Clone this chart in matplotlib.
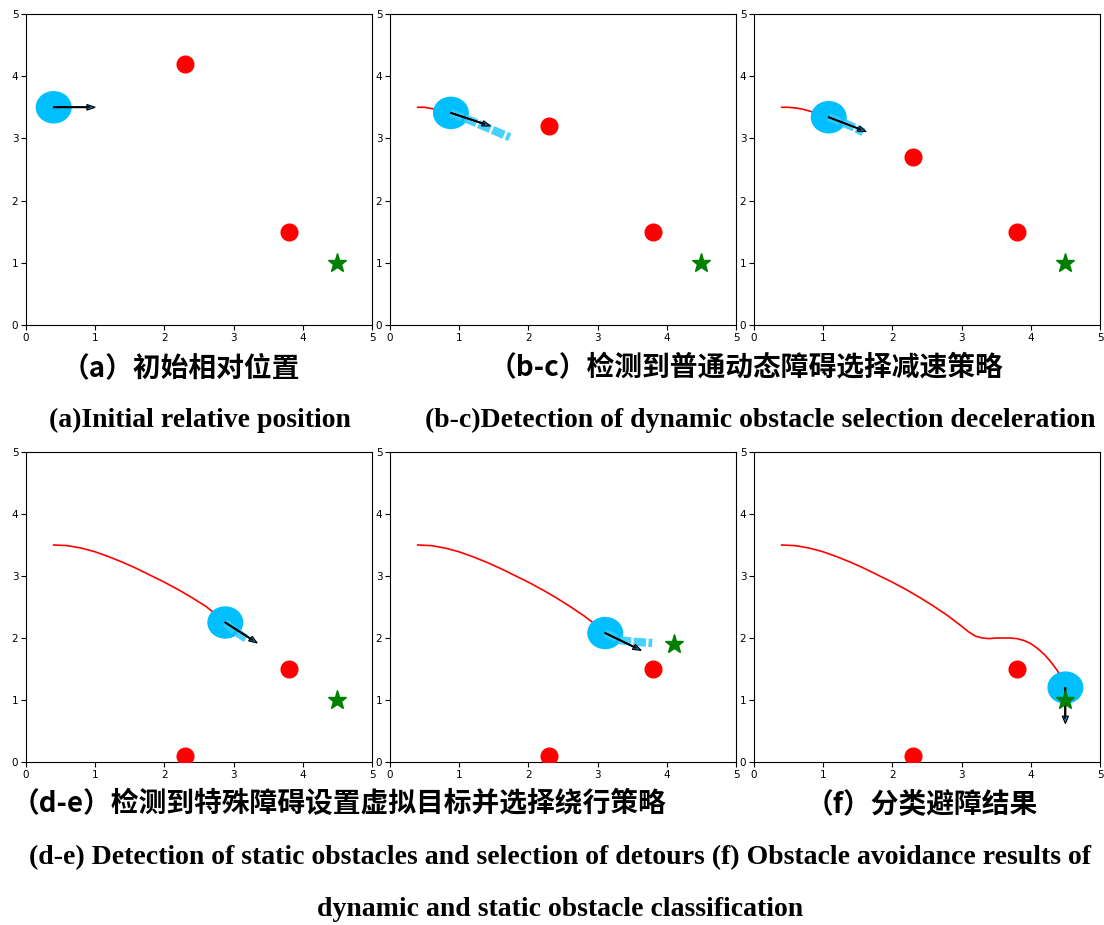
import matplotlib
matplotlib.use("Agg")
import matplotlib.pyplot as plt
from matplotlib.patches import Circle, FancyArrow

# ---- data ----
ticks = [0, 1, 2, 3, 4, 5]

# trajectories (x, y)
traj_a_x = [0.4]
traj_a_y = [3.5]
traj_b_x = [0.4, 0.5, 0.6, 0.7, 0.8, 0.88]
traj_b_y = [3.5, 3.5, 3.48, 3.46, 3.43, 3.41]
traj_c_x = [0.4, 0.5, 0.6, 0.7, 0.8, 0.9, 1.0, 1.08]
traj_c_y = [3.5, 3.5, 3.49, 3.47, 3.44, 3.41, 3.37, 3.34]
traj_d_x = [0.4, 0.6, 0.8, 1.0, 1.2, 1.4, 1.6, 1.8, 2.0, 2.2, 2.4, 2.6, 2.8, 2.88]
traj_d_y = [3.5, 3.49, 3.45, 3.39, 3.31, 3.22, 3.12, 3.01, 2.9, 2.78, 2.65, 2.51, 2.33, 2.25]
traj_e_x = [0.4, 0.6, 0.8, 1.0, 1.2, 1.4, 1.6, 1.8, 2.0, 2.2, 2.4, 2.6, 2.8, 3.0, 3.11]
traj_e_y = [3.5, 3.49, 3.45, 3.39, 3.31, 3.22, 3.12, 3.01, 2.9, 2.78, 2.65, 2.51, 2.36, 2.19, 2.08]
traj_f_x = [0.4, 0.6, 0.8, 1.0, 1.2, 1.4, 1.6, 1.8, 2.0, 2.2, 2.4, 2.6, 2.8, 3.0,
            3.1, 3.2, 3.3, 3.4, 3.5, 3.6, 3.7, 3.8, 3.9, 4.0, 4.1, 4.2, 4.3, 4.38, 4.44, 4.48, 4.5]
traj_f_y = [3.5, 3.49, 3.45, 3.39, 3.31, 3.22, 3.12, 3.01, 2.9, 2.78, 2.65, 2.51, 2.36, 2.19,
            2.1, 2.03, 2.0, 1.99, 2.0, 2.0, 2.0, 1.99, 1.96, 1.91, 1.83, 1.73, 1.6, 1.48, 1.36, 1.27, 1.2]

# robot position, heading arrow end
robot = [(0.4, 3.5), (0.88, 3.41), (1.08, 3.34), (2.88, 2.25), (3.11, 2.08), (4.5, 1.2)]
arrow_end = [(1.0, 3.5), (1.45, 3.2), (1.62, 3.11), (3.34, 1.92), (3.63, 1.8), (4.5, 0.62)]

# predicted trails
trail_x = [[], [1.0, 1.2, 1.45, 1.73], [1.2, 1.4, 1.58], [3.0, 3.1, 3.18], [3.35, 3.5, 3.65, 3.79], []]
trail_y = [[], [3.36, 3.27, 3.15, 3.02], [3.29, 3.2, 3.1], [2.13, 2.05, 1.99], [1.96, 1.94, 1.93, 1.92], []]

# obstacles (red) and goals (green)
obst_x = [[2.3, 3.8], [2.3, 3.8], [2.3, 3.8], [3.8, 2.3], [3.8, 2.3], [3.8, 2.3]]
obst_y = [[4.2, 1.5], [3.2, 1.5], [2.7, 1.5], [1.5, 0.1], [1.5, 0.1], [1.5, 0.1]]
goal = [(4.5, 1.0), (4.5, 1.0), (4.5, 1.0), (4.5, 1.0), (4.1, 1.9), (4.5, 1.0)]

trajs = [(traj_a_x, traj_a_y), (traj_b_x, traj_b_y), (traj_c_x, traj_c_y),
         (traj_d_x, traj_d_y), (traj_e_x, traj_e_y), (traj_f_x, traj_f_y)]

# ---- figure ----
W, H = 1104, 925
fig = plt.figure(figsize=(W / 100, H / 100), dpi=100)

lefts = [26, 390, 754]
rows = [(14, 325), (452, 762)]
axw = 346

axes = []
for r, (top, bot) in enumerate(rows):
    for c, l in enumerate(lefts):
        ax = fig.add_axes([l / W, 1 - bot / H, axw / W, (bot - top) / H])
        axes.append(ax)

for i, ax in enumerate(axes):
    ax.set_xlim(0, 5)
    ax.set_ylim(0, 5)
    ax.set_xticks(ticks)
    ax.set_yticks(ticks)
    ax.tick_params(labelsize=7.5, length=3.5, pad=2)
    tx, ty = trajs[i]
    ax.plot(tx, ty, color="red", lw=1.2, zorder=2)
    rx, ry = robot[i]
    ax.add_patch(Circle((rx, ry), 0.25, color="#00bfff", zorder=3))
    if trail_x[i]:
        ax.plot([rx] + trail_x[i], [ry] + trail_y[i], color="#33ccff", lw=6,
                alpha=0.9, dashes=(1.5, 0.3), solid_capstyle="butt", zorder=3)
    ex, ey = arrow_end[i]
    ax.add_patch(FancyArrow(rx, ry, ex - rx, ey - ry, width=0.012,
                            head_width=0.09, head_length=0.12,
                            length_includes_head=True,
                            fc="#1f77b4", ec="black", lw=0.8, zorder=4))
    ax.plot([rx, ex - (ex - rx) * 0.15], [ry, ey - (ey - ry) * 0.15],
            color="black", lw=1.2, zorder=4)
    ax.plot(obst_x[i], obst_y[i], "o", color="red", ms=12, zorder=5)
    gx, gy = goal[i]
    ax.plot([gx], [gy], "*", color="green", ms=14, zorder=5)

cjk = dict(family=["Noto Sans CJK SC", "DejaVu Sans"], fontweight="bold", fontsize=20)
en = dict(family=["Liberation Serif"], fontweight="bold", fontsize=20)

def txt(x, y, s, **kw):
    fig.text(x / W, 1 - y / H, s, ha="center", va="center", **kw)

txt(181, 368, "（a）初始相对位置", **cjk)
txt(746, 368, "（b-c）检测到普通动态障碍选择减速策略", **cjk)
txt(200, 420, "(a)Initial relative position", **en)
txt(760, 420, "(b-c)Detection of dynamic obstacle selection deceleration", **en)
txt(339, 804, "（d-e）检测到特殊障碍设置虚拟目标并选择绕行策略", **cjk)
txt(922, 804, "（f）分类避障结果", **cjk)
txt(560, 858, "(d-e) Detection of static obstacles and selection of detours (f) Obstacle avoidance results of", **en)
txt(560, 910, "dynamic and static obstacle classification", **en)

fig.savefig("out.png", dpi=100)
